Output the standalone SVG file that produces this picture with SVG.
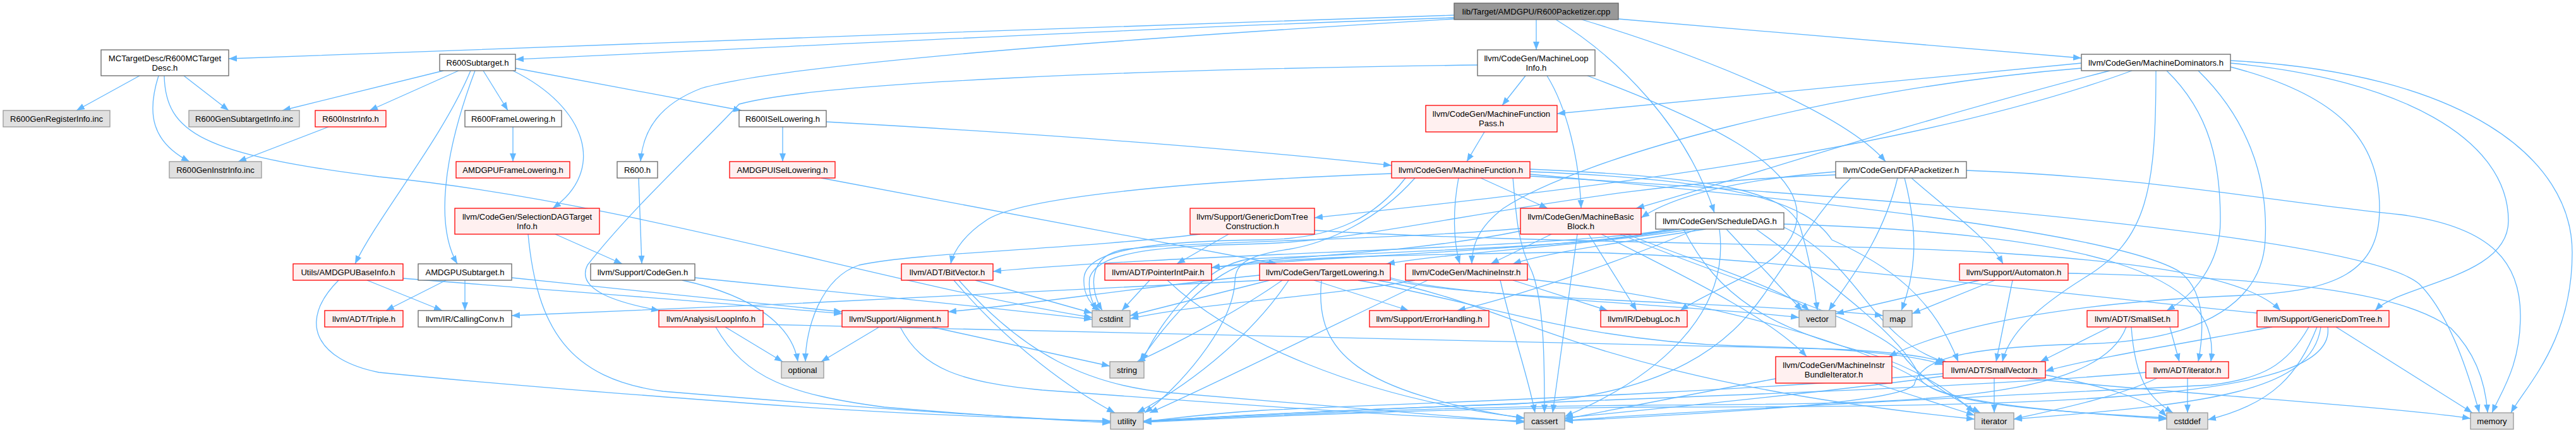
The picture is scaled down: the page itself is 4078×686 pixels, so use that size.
<svg xmlns="http://www.w3.org/2000/svg" width="4078" height="686" viewBox="0 0 4078 686">
<style>
.e path{fill:none;stroke:#63b8ff;stroke-width:1.3;marker-end:url(#a)}
rect{stroke-width:1.3}
.w{fill:#fff;stroke:#666}
.r{fill:#fff0f0;stroke:#f00}
.g{fill:#e0e0e0;stroke:#999}
.rt{fill:#999;stroke:#666}
text{font-family:"Liberation Sans",Arial,Helvetica,sans-serif;font-size:13.1px;fill:#000;text-anchor:middle}
</style>
<defs>
<marker id="a" markerWidth="14" markerHeight="12" refX="13" refY="6" orient="auto" markerUnits="userSpaceOnUse"><path d="M0,1L13,6L0,11z" fill="#63b8ff"/></marker>
</defs>
<rect width="4078" height="686" fill="#fff"/>
<g id="edges" class="e">
<path d="M2302,24 C1700,42 900,75 362,93"/>
<path d="M2302,28 C1800,45 1300,72 816,94"/>
<path d="M2302,30 C1800,60 1250,100 1110,140 C1045,165 1018,205 1014,256"/>
<path d="M2432,31 L2432,79"/>
<path d="M2463,31 C2560,90 2670,200 2714,337"/>
<path d="M2504,31 C2700,90 2920,180 2985,256"/>
<path d="M2562,30 L3295,92"/>
<path d="M221,120 L121,175"/>
<path d="M291,120 L362,175"/>
<path d="M251,120 C232,180 240,225 300,256"/>
<path d="M260,120 C262,210 320,245 600,280 C1000,320 1400,450 1729,503"/>
<path d="M702,112 L447,175"/>
<path d="M726,112 L585,175"/>
<path d="M745,112 C700,220 600,340 562,418"/>
<path d="M752,112 C700,250 690,360 724,418"/>
<path d="M765,112 L804,175"/>
<path d="M812,112 C930,170 960,270 875,330"/>
<path d="M816,108 L1174,175"/>
<path d="M520,201 L377,256"/>
<path d="M812,201 L812,256"/>
<path d="M1239,201 L1239,256"/>
<path d="M1308,193 C1700,215 2000,240 2203,262"/>
<path d="M1300,282 L2021,418"/>
<path d="M879,371 L985,418"/>
<path d="M836,371 C850,520 900,600 1050,620 C1350,645 1600,662 1758,668"/>
<path d="M1011,282 L1016,418"/>
<path d="M581,444 L700,492"/>
<path d="M638,441 C900,462 1150,480 1333,497"/>
<path d="M536,444 C470,510 500,570 600,590 C800,610 1000,625 1200,640 C1450,658 1650,664 1758,667"/>
<path d="M706,444 L611,492"/>
<path d="M736,444 L736,492"/>
<path d="M810,440 C1000,460 1200,480 1333,494"/>
<path d="M1080,444 C1200,470 1255,520 1263,573"/>
<path d="M1100,440 C1300,460 1550,485 1729,506"/>
<path d="M1148,518 L1239,573"/>
<path d="M1133,518 C1180,600 1250,625 1400,645 C1600,662 1700,667 1758,670"/>
<path d="M1208,514 C1700,528 2500,540 2900,553 C3000,557 3050,565 3080,574"/>
<path d="M1392,518 L1300,573"/>
<path d="M1475,518 L1757,580"/>
<path d="M1425,518 C1460,585 1520,605 1650,618 C1950,640 2250,662 2413,667"/>
<path d="M1544,444 L1729,496"/>
<path d="M1510,444 C1600,550 1700,620 1765,654"/>
<path d="M1518,444 C1620,560 1720,610 1850,622 C2100,642 2300,660 2413,669"/>
<path d="M1820,444 L1776,492"/>
<path d="M1848,444 C1950,540 2150,630 2413,662"/>
<path d="M2000,444 C1700,460 1200,485 810,500"/>
<path d="M1994,436 C1800,455 1650,480 1501,494"/>
<path d="M2010,444 L1789,500"/>
<path d="M2030,444 C1950,500 1850,550 1800,573"/>
<path d="M2040,444 C1990,520 1900,600 1800,654"/>
<path d="M2080,444 L2230,492"/>
<path d="M2092,444 C2080,560 2150,620 2413,663"/>
<path d="M2201,440 C2300,470 2700,485 2848,503"/>
<path d="M2201,442 C2300,475 2800,480 2981,500"/>
<path d="M2150,444 C2350,480 2500,540 2750,548 C2950,552 3040,565 3076,578"/>
<path d="M2180,444 C2400,480 2500,600 3126,664"/>
<path d="M1945,371 L1863,418"/>
<path d="M2081,365 C2400,385 2900,385 3150,400 C3400,415 3560,440 3610,492"/>
<path d="M1900,371 C1700,395 1450,400 1360,420 C1300,440 1275,520 1275,573"/>
<path d="M2415,120 L2378,167"/>
<path d="M2449,120 C2480,170 2500,250 2503,330"/>
<path d="M2339,103 C1800,110 1300,130 1170,165 C1110,230 1000,330 930,420 C910,460 980,480 1044,492"/>
<path d="M2513,120 C2700,190 2845,260 2845,340 C2845,420 2720,450 2660,492"/>
<path d="M2350,209 L2322,256"/>
<path d="M2203,275 C1800,290 1600,320 1560,350 C1530,370 1510,395 1505,418"/>
<path d="M2344,282 L2450,330"/>
<path d="M2309,282 C2300,330 2300,380 2311,418"/>
<path d="M2395,282 C2400,330 2400,380 2425,430 C2445,480 2445,580 2445,654"/>
<path d="M2225,282 C2180,340 2120,378 2000,380 C1800,382 1720,400 1716,440 C1714,470 1730,485 1742,492"/>
<path d="M2422,268 C2700,280 2830,300 2850,360 C2865,410 2872,450 2877,492"/>
<path d="M2422,272 C2750,285 2860,320 2900,380 C2990,420 3060,470 3100,573"/>
<path d="M2422,276 C2900,320 3350,370 3450,430 C3490,460 3490,520 3480,573"/>
<path d="M2422,279 C3100,320 3750,380 3830,450 C3880,500 3910,600 3925,654"/>
<path d="M2240,282 C2180,350 2100,385 2040,395 C1970,405 1956,420 1955,445 C1952,520 1860,620 1812,654"/>
<path d="M2456,371 L2360,418"/>
<path d="M2515,371 L2591,492"/>
<path d="M2497,371 C2480,500 2465,600 2458,654"/>
<path d="M2535,371 C2650,430 2800,500 2860,565"/>
<path d="M2565,371 C2750,450 2950,500 3010,560 C3040,600 3090,630 3135,654"/>
<path d="M2575,371 C2700,420 2830,460 2864,492"/>
<path d="M2407,366 C2250,398 2060,406 1986,414 C1910,430 1840,520 1804,573"/>
<path d="M2407,362 C2200,380 1900,382 1780,395 C1720,405 1725,460 1745,492"/>
<path d="M2650,363 C2450,395 1900,400 1572,430"/>
<path d="M2660,363 C2450,398 2100,405 1918,424"/>
<path d="M2680,363 C2500,390 2300,400 2195,418"/>
<path d="M2700,363 C2560,385 2450,400 2395,418"/>
<path d="M2686,363 C2550,420 2400,470 2307,492"/>
<path d="M2722,363 C2740,500 2620,600 2477,660"/>
<path d="M2733,363 L2853,492"/>
<path d="M2824,360 C2950,420 2960,540 3084,575"/>
<path d="M2824,355 C3300,370 3520,430 3500,573"/>
<path d="M2780,363 C2900,450 3020,540 3040,600 C3060,640 3300,655 3430,664"/>
<path d="M2665,363 C2720,470 2800,520 2960,560 C3050,590 3100,630 3125,654"/>
<path d="M2640,363 C2560,385 2400,392 1980,410 C1900,420 1830,520 1808,573"/>
<path d="M2395,444 L2545,492"/>
<path d="M2375,444 C2395,530 2420,600 2430,654"/>
<path d="M2260,444 C2100,520 1900,620 1820,654"/>
<path d="M2418,442 C2750,480 2980,560 3050,610 C3100,645 3300,655 3430,662"/>
<path d="M2240,444 C2100,470 1900,480 1789,505"/>
<path d="M3295,100 L2465,180"/>
<path d="M3295,108 C2900,140 2500,250 2380,330 C2340,360 2330,390 2330,418"/>
<path d="M3340,112 C3000,200 2700,300 2590,330"/>
<path d="M3375,112 C3000,250 2400,310 2081,345"/>
<path d="M3413,112 C3413,300 3400,380 3300,440 C3220,490 3180,530 3170,573"/>
<path d="M3430,112 C3500,180 3515,260 3515,350 C3515,420 3470,470 3430,492"/>
<path d="M3480,112 C3570,200 3590,300 3586,380 C3582,470 3500,540 3300,545 C3100,550 3040,570 3030,610 C3000,640 2700,655 2477,667"/>
<path d="M3531,106 C3700,150 3767,220 3767,330 C3767,430 3700,462 3550,468 C3300,478 3100,510 2990,565"/>
<path d="M3531,100 C3800,125 3971,220 3971,350 C3971,440 3800,450 3760,492"/>
<path d="M3531,96 C3900,115 4072,250 4072,400 C4072,540 4000,610 3975,654"/>
<path d="M2906,272 C2750,285 2650,310 2598,345"/>
<path d="M2906,277 C2500,290 2200,380 2000,386 C1850,390 1740,395 1725,440 C1722,465 1730,480 1736,492"/>
<path d="M2930,282 C2880,330 2840,400 2790,470 C2740,540 2650,625 2400,640 C2100,650 1900,662 1810,667"/>
<path d="M3004,282 C2980,380 2930,440 2895,492"/>
<path d="M3015,282 C3040,380 3030,440 3010,492"/>
<path d="M3026,282 C3080,330 3150,380 3171,418"/>
<path d="M3113,270 C3400,280 3600,320 3800,340 C3950,360 3990,420 3990,500 C3990,580 3960,620 3945,654"/>
<path d="M3134,444 L2906,497"/>
<path d="M3158,444 L3027,497"/>
<path d="M3186,444 L3160,573"/>
<path d="M3274,433 C3600,440 3800,460 3880,520 C3920,560 3935,610 3938,654"/>
<path d="M3340,518 L3230,573"/>
<path d="M3435,518 L3450,573"/>
<path d="M3374,518 C3380,600 3400,630 3440,654"/>
<path d="M3366,518 C3320,640 3000,640 2600,642 C2200,645 1950,662 1810,668"/>
<path d="M2811,600 C2700,620 2550,650 2477,664"/>
<path d="M2967,607 L3126,658"/>
<path d="M3157,599 L3157,654"/>
<path d="M3076,596 C2900,620 2600,650 2477,662"/>
<path d="M3238,594 C3320,610 3400,630 3430,660"/>
<path d="M3206,599 C3400,620 3800,645 3911,663"/>
<path d="M3076,592 C2700,625 2200,640 2000,650 C1900,656 1850,664 1810,668"/>
<path d="M3463,599 L3463,654"/>
<path d="M3415,599 C3350,630 3250,650 3188,664"/>
<path d="M3397,590 C3000,625 2200,640 1810,668"/>
<path d="M3597,518 C3450,545 3300,570 3238,588"/>
<path d="M3655,518 C3620,580 3580,600 3500,610 C3100,630 2700,650 2477,666"/>
<path d="M3668,518 C3640,590 3600,640 3495,665"/>
<path d="M3674,518 C3660,620 3500,640 3188,664"/>
<path d="M3685,518 C3700,630 3300,645 2600,645 C2200,648 1950,663 1810,669"/>
<path d="M3698,518 L3914,654"/>
<path d="M3573,496 C3200,460 2700,395 2450,400 C2250,404 2050,405 1918,424"/>
</g>
<g id="n0"><rect class="rt" x="2302" y="5" width="260" height="26"/><text x="2432" y="22.5">lib/Target/AMDGPU/R600Packetizer.cpp</text></g>
<g id="n1"><rect class="w" x="160" y="79" width="202" height="41"/><text x="261" y="96.5">MCTargetDesc/R600MCTarget</text><text x="261" y="111.5">Desc.h</text></g>
<g id="n2"><rect class="g" x="5" y="175" width="169" height="26"/><text x="89.5" y="192.5">R600GenRegisterInfo.inc</text></g>
<g id="n3"><rect class="g" x="299" y="175" width="175" height="26"/><text x="386.5" y="192.5">R600GenSubtargetInfo.inc</text></g>
<g id="n4"><rect class="g" x="268" y="256" width="146" height="26"/><text x="341" y="273.5">R600GenInstrInfo.inc</text></g>
<g id="n5"><rect class="w" x="696" y="86" width="120" height="26"/><text x="756" y="103.5">R600Subtarget.h</text></g>
<g id="n6"><rect class="r" x="499" y="175" width="112" height="26"/><text x="555" y="192.5">R600InstrInfo.h</text></g>
<g id="n7"><rect class="w" x="736" y="175" width="153" height="26"/><text x="812.5" y="192.5">R600FrameLowering.h</text></g>
<g id="n8"><rect class="r" x="722" y="256" width="180" height="26"/><text x="812" y="273.5">AMDGPUFrameLowering.h</text></g>
<g id="n9"><rect class="w" x="1170" y="175" width="138" height="26"/><text x="1239" y="192.5">R600ISelLowering.h</text></g>
<g id="n10"><rect class="r" x="1155" y="256" width="167" height="26"/><text x="1238.5" y="273.5">AMDGPUISelLowering.h</text></g>
<g id="n11"><rect class="r" x="720" y="330" width="229" height="41"/><text x="834.5" y="347.5">llvm/CodeGen/SelectionDAGTarget</text><text x="834.5" y="362.5">Info.h</text></g>
<g id="n12"><rect class="r" x="464" y="418" width="174" height="26"/><text x="551" y="435.5">Utils/AMDGPUBaseInfo.h</text></g>
<g id="n13"><rect class="w" x="662" y="418" width="148" height="26"/><text x="736" y="435.5">AMDGPUSubtarget.h</text></g>
<g id="n14"><rect class="r" x="514" y="492" width="124" height="26"/><text x="576" y="509.5">llvm/ADT/Triple.h</text></g>
<g id="n15"><rect class="w" x="662" y="492" width="148" height="26"/><text x="736" y="509.5">llvm/IR/CallingConv.h</text></g>
<g id="n16"><rect class="w" x="977" y="256" width="64" height="26"/><text x="1009" y="273.5">R600.h</text></g>
<g id="n17"><rect class="w" x="935" y="418" width="165" height="26"/><text x="1017.5" y="435.5">llvm/Support/CodeGen.h</text></g>
<g id="n18"><rect class="r" x="1043" y="492" width="165" height="26"/><text x="1125.5" y="509.5">llvm/Analysis/LoopInfo.h</text></g>
<g id="n19"><rect class="g" x="1237" y="573" width="67" height="26"/><text x="1270.5" y="590.5">optional</text></g>
<g id="n20"><rect class="r" x="1333" y="492" width="168" height="26"/><text x="1417" y="509.5">llvm/Support/Alignment.h</text></g>
<g id="n21"><rect class="r" x="1427" y="418" width="145" height="26"/><text x="1499.5" y="435.5">llvm/ADT/BitVector.h</text></g>
<g id="n22"><rect class="r" x="1749" y="418" width="169" height="26"/><text x="1833.5" y="435.5">llvm/ADT/PointerIntPair.h</text></g>
<g id="n23"><rect class="r" x="1994" y="418" width="207" height="26"/><text x="2097.5" y="435.5">llvm/CodeGen/TargetLowering.h</text></g>
<g id="n24"><rect class="g" x="1729" y="492" width="60" height="26"/><text x="1759" y="509.5">cstdint</text></g>
<g id="n25"><rect class="g" x="1757" y="573" width="54" height="26"/><text x="1784" y="590.5">string</text></g>
<g id="n26"><rect class="g" x="1758" y="654" width="52" height="26"/><text x="1784" y="671.5">utility</text></g>
<g id="n27"><rect class="r" x="1884" y="330" width="197" height="41"/><text x="1982.5" y="347.5">llvm/Support/GenericDomTree</text><text x="1982.5" y="362.5">Construction.h</text></g>
<g id="n28"><rect class="w" x="2339" y="79" width="186" height="41"/><text x="2432" y="96.5">llvm/CodeGen/MachineLoop</text><text x="2432" y="111.5">Info.h</text></g>
<g id="n29"><rect class="r" x="2257" y="167" width="208" height="42"/><text x="2361" y="184.5">llvm/CodeGen/MachineFunction</text><text x="2361" y="199.5">Pass.h</text></g>
<g id="n30"><rect class="r" x="2203" y="256" width="219" height="26"/><text x="2312.5" y="273.5">llvm/CodeGen/MachineFunction.h</text></g>
<g id="n31"><rect class="r" x="2407" y="330" width="191" height="41"/><text x="2502.5" y="347.5">llvm/CodeGen/MachineBasic</text><text x="2502.5" y="362.5">Block.h</text></g>
<g id="n32"><rect class="w" x="2621" y="337" width="203" height="26"/><text x="2722.5" y="354.5">llvm/CodeGen/ScheduleDAG.h</text></g>
<g id="n33"><rect class="r" x="2225" y="418" width="193" height="26"/><text x="2321.5" y="435.5">llvm/CodeGen/MachineInstr.h</text></g>
<g id="n34"><rect class="r" x="2168" y="492" width="189" height="26"/><text x="2262.5" y="509.5">llvm/Support/ErrorHandling.h</text></g>
<g id="n35"><rect class="r" x="2534" y="492" width="137" height="26"/><text x="2602.5" y="509.5">llvm/IR/DebugLoc.h</text></g>
<g id="n36"><rect class="g" x="2413" y="654" width="64" height="26"/><text x="2445" y="671.5">cassert</text></g>
<g id="n37"><rect class="w" x="3295" y="86" width="236" height="26"/><text x="3413" y="103.5">llvm/CodeGen/MachineDominators.h</text></g>
<g id="n38"><rect class="w" x="2906" y="256" width="207" height="26"/><text x="3009.5" y="273.5">llvm/CodeGen/DFAPacketizer.h</text></g>
<g id="n39"><rect class="r" x="3102" y="418" width="172" height="26"/><text x="3188" y="435.5">llvm/Support/Automaton.h</text></g>
<g id="n40"><rect class="g" x="2848" y="492" width="58" height="26"/><text x="2877" y="509.5">vector</text></g>
<g id="n41"><rect class="g" x="2981" y="492" width="46" height="26"/><text x="3004" y="509.5">map</text></g>
<g id="n42"><rect class="r" x="3304" y="492" width="144" height="26"/><text x="3376" y="509.5">llvm/ADT/SmallSet.h</text></g>
<g id="n43"><rect class="r" x="2811" y="565" width="184" height="42"/><text x="2903" y="582.5">llvm/CodeGen/MachineInstr</text><text x="2903" y="597.5">BundleIterator.h</text></g>
<g id="n44"><rect class="r" x="3076" y="573" width="162" height="26"/><text x="3157" y="590.5">llvm/ADT/SmallVector.h</text></g>
<g id="n45"><rect class="g" x="3126" y="654" width="62" height="26"/><text x="3157" y="671.5">iterator</text></g>
<g id="n46"><rect class="r" x="3397" y="573" width="131" height="26"/><text x="3462.5" y="590.5">llvm/ADT/iterator.h</text></g>
<g id="n47"><rect class="r" x="3573" y="492" width="209" height="26"/><text x="3677.5" y="509.5">llvm/Support/GenericDomTree.h</text></g>
<g id="n48"><rect class="g" x="3430" y="654" width="65" height="26"/><text x="3462.5" y="671.5">cstddef</text></g>
<g id="n49"><rect class="g" x="3911" y="654" width="68" height="26"/><text x="3945" y="671.5">memory</text></g>
</svg>
